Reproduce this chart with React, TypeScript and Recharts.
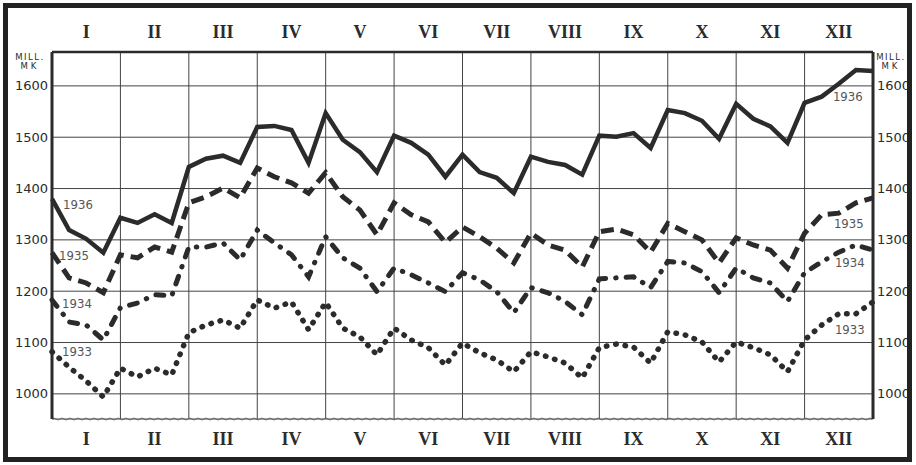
import React from 'react';
import {
  LineChart,
  Line,
  XAxis,
  YAxis,
  CartesianGrid,
  ReferenceLine,
} from 'recharts';

// weekly readings (4 per month + year end), mill. mk
const v1936 = [1380, 1319, 1302, 1275, 1343, 1333, 1350, 1333, 1442, 1458, 1464, 1450, 1520, 1522, 1514, 1450, 1547, 1495, 1471, 1432, 1503, 1489, 1466, 1423, 1466, 1432, 1421, 1391, 1462, 1452, 1446, 1427, 1503, 1501, 1508, 1479, 1553, 1547, 1532, 1497, 1565, 1536, 1521, 1489, 1567, 1579, 1604, 1631, 1629];
const v1935 = [1275, 1226, 1216, 1197, 1271, 1265, 1286, 1276, 1372, 1384, 1401, 1382, 1440, 1423, 1411, 1391, 1431, 1384, 1358, 1310, 1372, 1349, 1335, 1295, 1325, 1306, 1284, 1255, 1313, 1290, 1280, 1247, 1316, 1321, 1310, 1276, 1332, 1316, 1300, 1255, 1304, 1290, 1280, 1245, 1313, 1349, 1352, 1372, 1382];
const v1934 = [1183, 1140, 1134, 1105, 1168, 1177, 1193, 1191, 1286, 1286, 1294, 1261, 1319, 1294, 1271, 1228, 1306, 1265, 1245, 1199, 1245, 1232, 1216, 1199, 1236, 1222, 1199, 1158, 1207, 1197, 1180, 1154, 1224, 1226, 1228, 1207, 1258, 1255, 1238, 1197, 1245, 1226, 1216, 1180, 1236, 1257, 1276, 1290, 1280];
const v1933 = [1082, 1052, 1025, 994, 1050, 1033, 1050, 1037, 1119, 1134, 1144, 1128, 1183, 1167, 1179, 1125, 1178, 1128, 1111, 1076, 1128, 1105, 1090, 1056, 1099, 1080, 1066, 1043, 1082, 1072, 1060, 1031, 1090, 1097, 1091, 1060, 1121, 1115, 1101, 1062, 1101, 1090, 1076, 1043, 1105, 1134, 1156, 1156, 1179];

const months = ['I', 'II', 'III', 'IV', 'V', 'VI', 'VII', 'VIII', 'IX', 'X', 'XI', 'XII'];
const monthCenters = [2, 6, 10, 14, 18, 22, 26, 30, 34, 38, 42, 46];
const monthBounds = [4, 8, 12, 16, 20, 24, 28, 32, 36, 40, 44];
const yTicks = [1000, 1100, 1200, 1300, 1400, 1500, 1600];

const data = v1936.map((v, i) => ({
  t: i,
  y1936: v,
  y1935: v1935[i],
  y1934: v1934[i],
  y1933: v1933[i],
}));

const INK = '#2b2b2b';
const numFont = '"DejaVu Sans", sans-serif';
const tagFont = '"DejaVu Sans Condensed", "DejaVu Sans", sans-serif';

function MonthTick({ x, y, payload }: any) {
  const idx = monthCenters.indexOf(payload.value);
  return (
    <text
      x={x}
      y={y}
      textAnchor="middle"
      fill={INK}
      fontFamily='"Liberation Serif", serif'
      fontWeight="bold"
      fontSize={18}
    >
      {months[idx]}
    </text>
  );
}

// year tags next to the first point and the 47th point of each line
function yearTag(year: string, left: [number, number], right: [number, number]) {
  return (props: any) => {
    const { x, y, index } = props;
    if (index === 0)
      return (
        <text key={index} x={x + left[0]} y={y + left[1]} fill="#555" fontFamily={tagFont} fontSize={13} textAnchor="middle" dominantBaseline="central">
          {year}
        </text>
      );
    if (index === 46)
      return (
        <text key={index} x={x + right[0]} y={y + right[1]} fill="#555" fontFamily={tagFont} fontSize={13} textAnchor="middle" dominantBaseline="central">
          {year}
        </text>
      );
    return <g key={index} />;
  };
}

function unitLabel(cx: number) {
  return (props: any) => {
    const vb = props.viewBox || {};
    const y0 = (vb.y ?? 52) + 8;
    return (
      <g fill={INK} fontFamily={numFont} fontSize={8.5} textAnchor="middle">
        <text x={cx} y={y0} letterSpacing={1.5}>MILL.</text>
        <text x={cx} y={y0 + 9} letterSpacing={3}>MK</text>
      </g>
    );
  };
}

function WavyLine(props: any) {
  const { x1, y1, x2 } = props;
  if (x1 == null) return <g />;
  let d = `M${x1},${y1}`;
  const step = 4;
  let up = true;
  for (let x = x1 + step; x <= x2; x += step) {
    d += ` Q${x - step / 2},${y1 + (up ? -2 : 2)} ${x},${y1}`;
    up = !up;
  }
  return <path d={d} stroke="#666" strokeWidth={1} fill="none" />;
}

export default function App() {
  return (
    <div style={{ position: 'absolute', left: 0, top: 0, width: 916, height: 465, background: '#fff' }}>
      <LineChart
        width={916}
        height={465}
        data={data}
        margin={{ top: 12, right: 3, bottom: 6, left: 12 }}
      >
        <CartesianGrid vertical={false} stroke="#444" strokeWidth={1} />
        <XAxis
          dataKey="t"
          type="number"
          domain={[0, 48]}
          ticks={monthCenters}
          height={40}
          tickSize={0}
          tickMargin={26}
          axisLine={false}
          tick={<MonthTick />}
          interval={0}
        />
        <XAxis
          xAxisId="top"
          orientation="top"
          dataKey="t"
          type="number"
          domain={[0, 48]}
          ticks={monthCenters}
          height={40}
          tickSize={0}
          tickMargin={14}
          axisLine={{ stroke: INK, strokeWidth: 2.5 }}
          tick={<MonthTick />}
          interval={0}
        />
        <YAxis
          domain={[951, 1666]}
          ticks={yTicks}
          width={40}
          tickSize={0}
          tickMargin={4}
          axisLine={{ stroke: INK, strokeWidth: 3 }}
          tick={{ fill: INK, fontFamily: numFont, fontSize: 13 }}
          allowDataOverflow
          label={{ content: unitLabel(30) }}
          interval={0}
        />
        <YAxis
          yAxisId="right"
          orientation="right"
          domain={[951, 1666]}
          ticks={yTicks}
          width={40}
          tickSize={0}
          tickMargin={4}
          axisLine={{ stroke: INK, strokeWidth: 3 }}
          tick={{ fill: INK, fontFamily: numFont, fontSize: 13, textAnchor: 'start' }}
          allowDataOverflow
          label={{ content: unitLabel(891) }}
          interval={0}
        />
        {monthBounds.map((m) => (
          <ReferenceLine key={m} x={m} stroke="#444" strokeWidth={1} />
        ))}
        <ReferenceLine y={951} shape={<WavyLine />} ifOverflow="visible" />
        <Line
          dataKey="y1936"
          stroke={INK}
          strokeWidth={4.5}
          dot={false}
          isAnimationActive={false}
          label={yearTag('1936', [26, 6], [9, 13])}
        />
        <Line
          dataKey="y1935"
          stroke={INK}
          strokeWidth={5}
          strokeDasharray="13 7"
          dot={false}
          isAnimationActive={false}
          label={yearTag('1935', [22, 3], [10, 10])}
        />
        <Line
          dataKey="y1934"
          stroke={INK}
          strokeWidth={5}
          strokeLinecap="round"
          strokeDasharray="8 10 0.5 10"
          dot={false}
          isAnimationActive={false}
          label={yearTag('1934', [25, 4], [11, 10])}
        />
        <Line
          dataKey="y1933"
          stroke={INK}
          strokeWidth={5.5}
          strokeLinecap="round"
          strokeDasharray="0.5 9"
          dot={false}
          isAnimationActive={false}
          label={yearTag('1933', [25, 0], [11, 16])}
        />
      </LineChart>
      <div
        style={{
          position: 'absolute',
          left: 3,
          top: 3,
          width: 899,
          height: 449,
          border: '5px solid #222',
          pointerEvents: 'none',
        }}
      />
    </div>
  );
}
